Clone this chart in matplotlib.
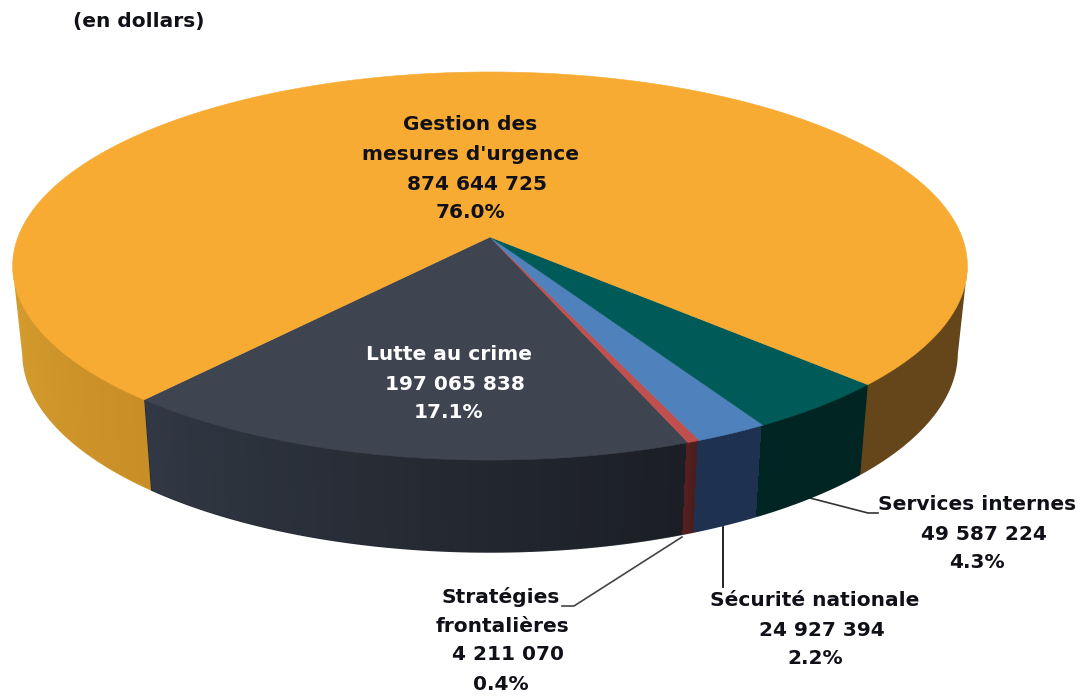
import numpy as np
import matplotlib
matplotlib.use("Agg")
import matplotlib.pyplot as plt
from matplotlib.colors import to_rgb

# slices, counter-clockwise starting at the left edge of the dark one
names = ["Lutte au crime", "Stratégies frontalières", "Sécurité nationale", "Services internes", "Gestion des mesures d'urgence"]
values = [197065838, 4211070, 24927394, 49587224, 874644725]
top_colors = ["#3e4450", "#bf504d", "#4f81bd", "#005a58", "#f7ab32"]
wall_start = ["#313843", "#551f1f", "#1f3150", "#002522", "#64461a"]
wall_end = ["#1b1e24", "#4a1e1e", "#1f3150", "#002522", "#64461a"]
gold_left = ["#d59c2e", "#c98f27"]
title = "(en dollars)"

start_angle = 229.5
cx, cy = 490, 237
a, b, k = 472, 189.7, 0.1495


def top(t):
    X, Y = np.cos(t), np.sin(t)
    s = 1 / (1 + k * Y)
    return cx + a * X * s, cy - b * Y * s


def bottom(t):
    x, y = top(t)
    return cx + 0.98 * (x - cx), 323 + 1.03 * (y - cy)


def wall(ts, c0, c1):
    # smooth outline first, then unsmoothed strips a bit inside it so no seams show
    c0, c1 = np.array(to_rgb(c0)), np.array(to_rgb(c1))
    xt, yt = top(ts)
    xb, yb = bottom(ts)
    ax.fill(np.r_[xt, xb[::-1]], np.r_[yt, yb[::-1]], color=(c0 + c1) / 2, lw=0, zorder=2)
    xi = xb - np.sign(xb - cx) * 1.2
    yi = yb - 1.2
    xu = xt - np.sign(xt - cx) * 1.2
    yu = yt - 1.2
    for j in range(len(ts) - 1):
        col = c0 + (c1 - c0) * j / max(len(ts) - 2, 1)
        ax.fill([xu[j], xu[j + 1], xi[j + 1], xi[j]], [yu[j], yu[j + 1], yi[j + 1], yi[j]],
                color=col, lw=0, antialiased=False, zorder=2)


fig = plt.figure(figsize=(10.8, 6.96), dpi=100)
ax = fig.add_axes([0, 0, 1, 1])
ax.set_xlim(0, 1080)
ax.set_ylim(696, 0)
ax.axis("off")

fracs = np.array(values) / sum(values)
edges = np.radians(start_angle + 360 * np.concatenate([[0], np.cumsum(fracs)]))

# gold wall only shows at both ends of its arc
wall(np.linspace(edges[4], np.radians(351), 40), wall_start[4], wall_end[4])
wall(np.linspace(np.radians(549), edges[5], 40), gold_left[0], gold_left[1])
for i in range(4):
    n = max(int((edges[i + 1] - edges[i]) * 60), 4)
    wall(np.linspace(edges[i], edges[i + 1], n), wall_start[i], wall_end[i])

# top face
for i in range(len(values)):
    ts = np.linspace(edges[i], edges[i + 1], 300)
    x, y = top(ts)
    ax.fill(np.r_[cx, x], np.r_[cy, y], color=top_colors[i], lw=0.4, zorder=3)

# leaders
ax.plot([810, 868, 878], [498, 513, 513], color="#333333", lw=1.2, zorder=1)
ax.plot([723, 723], [527, 587], color="#111111", lw=1.3, zorder=1)
ax.plot([682, 574, 562], [537, 606, 606], color="#444444", lw=1.2, zorder=1)

fs = 14.5
dark = "#101018"


def label(x, y, s, color=dark):
    ax.text(x, y, s, fontsize=fs, fontweight="bold", family="DejaVu Sans", color=color,
            ha="center", va="center", zorder=5)


ax.text(73, 22, title, fontsize=fs, fontweight="bold", family="DejaVu Sans", color=dark, ha="left", va="center")
label(470, 125, "Gestion des")
label(470, 155, "mesures d'urgence")
label(477, 184, "874 644 725")
label(470, 213, "76.0%")
label(449, 354, "Lutte au crime", "white")
label(455, 384, "197 065 838", "white")
label(448, 412, "17.1%", "white")
label(977, 505, "Services internes")
label(984, 534, "49 587 224")
label(977, 562, "4.3%")
label(815, 600, "Sécurité nationale")
label(822, 630, "24 927 394")
label(815, 658, "2.2%")
label(501, 597, "Stratégies")
label(502, 627, "frontalières")
label(508, 655, "4 211 070")
label(501, 685, "0.4%")

fig.savefig("out.png", dpi=100)
